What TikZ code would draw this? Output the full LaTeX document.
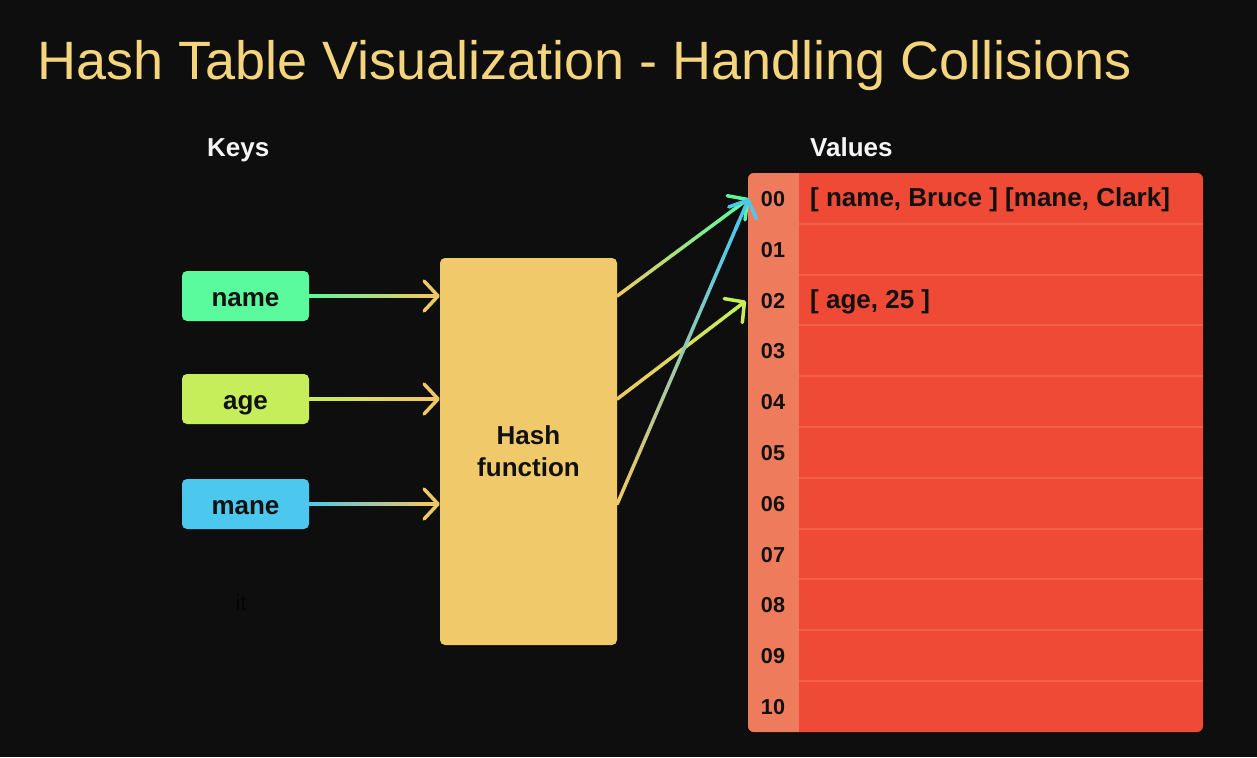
\documentclass[tikz,border=0pt]{standalone}
\usepackage{fontspec}
\setmainfont{Liberation Sans}
\usetikzlibrary{arrows.meta,calc}
\definecolor{bg}{HTML}{0E0E0E}
\definecolor{titlecol}{HTML}{F4D47C}
\definecolor{hashcol}{HTML}{F0C96A}
\definecolor{namecol}{HTML}{5AFB9C}
\definecolor{agecol}{HTML}{C6EE5A}
\definecolor{manecol}{HTML}{4CC8EE}
\definecolor{tblred}{HTML}{EE4A35}
\definecolor{idxcol}{HTML}{EE7B5C}
\definecolor{sepcol}{HTML}{F26048}
\definecolor{ink}{HTML}{111111}
\definecolor{arrowyel}{HTML}{EEC865}
\definecolor{faint}{HTML}{050505}
\tikzset{
  lbl/.style={font=\bfseries\fontsize{26}{30}\selectfont},
  keybox/.style={lbl, rounded corners=5pt, minimum width=127pt, minimum height=50pt,
    inner sep=0pt, text=ink, text height=21pt, text depth=0pt},
  hashbox/.style={lbl, fill=hashcol, rounded corners=5pt, minimum width=177pt,
    minimum height=387pt, inner sep=0pt, text=ink, align=center, font=\bfseries\fontsize{26}{32}\selectfont},
  header/.style={lbl, text=white!96!black, inner sep=0pt, anchor=base west},
  rowcell/.style={minimum width=455pt, minimum height=50.8pt, inner sep=0pt},
  idx/.style={font=\bfseries\fontsize{21.6}{24}\selectfont, text=ink, inner sep=0pt, anchor=base},
  val/.style={lbl, text=ink, inner sep=0pt, anchor=base west},
}
\newcommand\gradarrow[4]{%
  \foreach \k in {0,...,23}{%
    \pgfmathsetmacro\ka{\k/24*0.92}%
    \pgfmathsetmacro\kb{(\k+1)/24*0.92}%
    \pgfmathtruncatemacro\kp{\k*100/23}%
    \draw[line width=3.5pt, line cap=round, color=#4!\kp!#3] ($(#1)!\ka!(#2)$) -- ($(#1)!\kb!(#2)$);
  }%
  \draw[line width=3.5pt, color=#4, line cap=round,
    -{Straight Barb[length=14pt, width=30pt, line cap=round, line join=round]}]
    ($(#1)!0.9!(#2)$) -- (#2);
}
\begin{document}
\begin{tikzpicture}[x=1pt, y=-1pt]
\useasboundingbox (0,0) rectangle (1257,757);
\fill[bg] (0,0) rectangle (1257,757);

% title
\node[anchor=base west, inner sep=0pt, text=titlecol, font=\fontsize{54}{60}\selectfont]
  (title) at (37,80) {Hash Table Visualization - Handling Collisions};

% headers
\node[header] (keys) at (207,156) {Keys};
\node[header] (values) at (810,156) {Values};

% keys
\node[keybox, fill=namecol] (name) at (245.5,296) {name};
\node[keybox, fill=agecol] (age) at (245.5,399) {age};
\node[keybox, fill=manecol] (mane) at (245.5,504) {mane};

% hash function
\node[hashbox] (hash) at (528.5,451.5) {Hash\\function};

% faint text
\node[font=\fontsize{22}{24}\selectfont, text=faint, inner sep=0pt] (it) at (241,603) {it};

% table
\fill[tblred, rounded corners=6pt] (748,173) rectangle (1203,732);
\begin{scope}
  \clip[rounded corners=6pt] (748,173) rectangle (1203,732);
  \fill[idxcol] (748,173) rectangle (799,732);
\end{scope}
\foreach \i in {1,...,10}{
  \draw[sepcol, line width=2pt] (799,{173+50.8*\i}) -- (1203,{173+50.8*\i});
}
\foreach \i/\t in {0/00,1/01,2/02,3/03,4/04,5/05,6/06,7/07,8/08,9/09,10/10}{
  \node[rowcell] (r\i) at (975.5,{173+50.8*(\i+0.5)}) {};
  \node[idx] (n\i) at (773,{173+50.8*(\i+0.5)+8}) {\t};
}
\node[val] (v0) at (810,{173+50.8*0.5+8.5}) {[ name, Bruce ] [mane, Clark]};
\node[val] (v2) at (810,{173+50.8*2.5+8.5}) {[ age, 25 ]};

% connectors
\coordinate (nameIn) at (name.east -| hash.west);
\coordinate (ageIn) at (age.east -| hash.west);
\coordinate (maneIn) at (mane.east -| hash.west);
\coordinate (nameOut) at (hash.east |- name.east);
\coordinate (ageOut) at (hash.east |- age.east);
\coordinate (maneOut) at (hash.east |- mane.east);
\coordinate (t0) at ($(r0.west)+(1,0)$);
\coordinate (t2) at ($(r2.west)+(-2,1)$);

\gradarrow{name.east}{nameIn}{namecol}{arrowyel}
\gradarrow{age.east}{ageIn}{agecol}{arrowyel}
\gradarrow{mane.east}{maneIn}{manecol}{arrowyel}
\gradarrow{nameOut}{t0}{arrowyel}{namecol}
\gradarrow{ageOut}{t2}{arrowyel}{agecol}
\gradarrow{maneOut}{t0}{arrowyel}{manecol}
\end{tikzpicture}
\end{document}
